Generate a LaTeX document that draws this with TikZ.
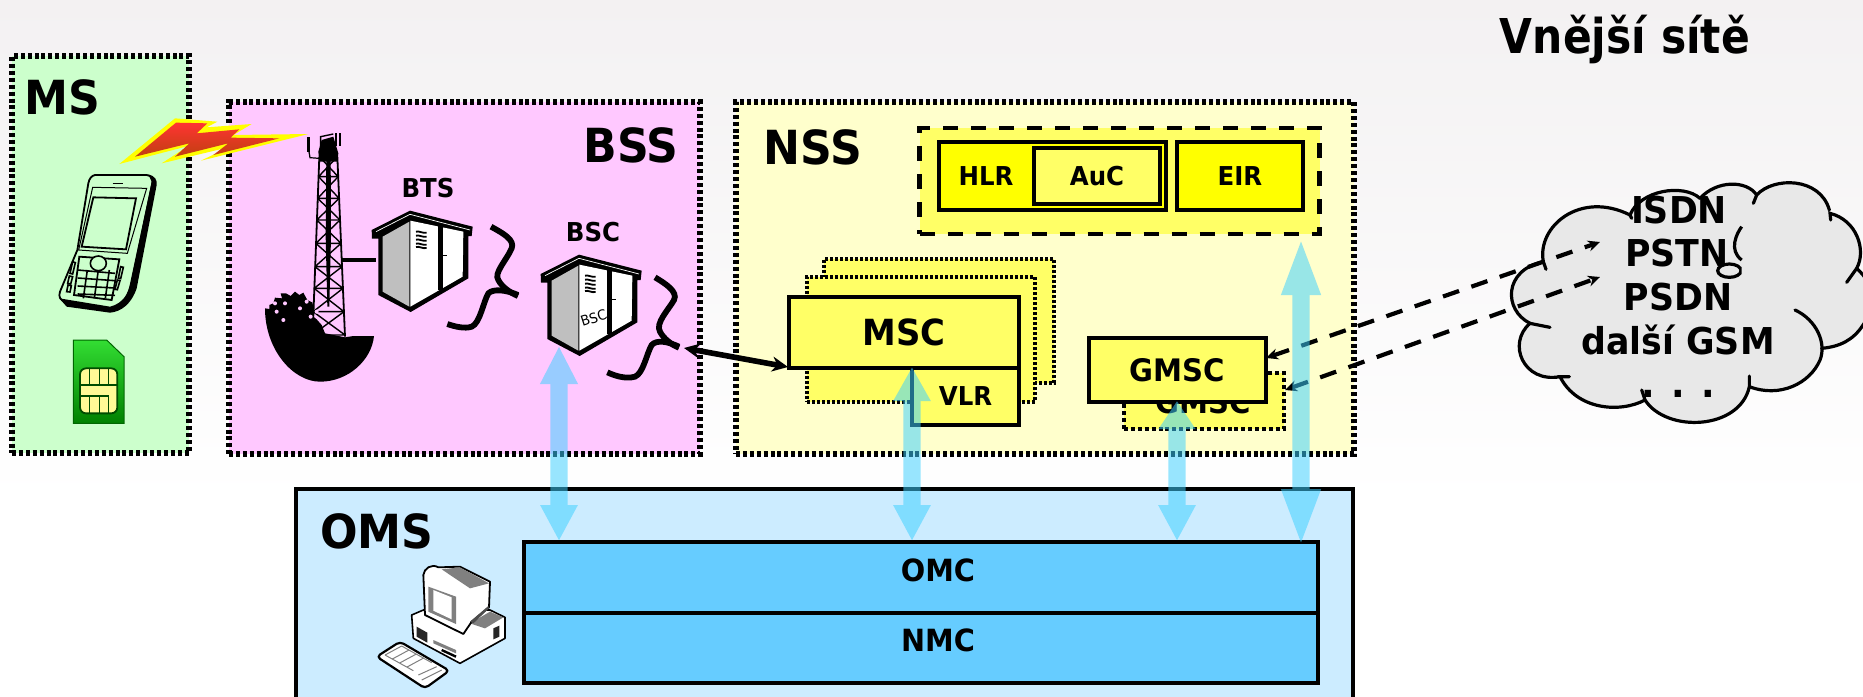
\documentclass[tikz,border=0pt]{standalone}
\usepackage{fontspec}
\usetikzlibrary{arrows.meta}
\newfontfamily\lab{DejaVu Sans}[FakeStretch=0.94]
\newfontfamily\labt{DejaVu Sans}[FakeStretch=0.885]
\newcommand{\fz}[1]{\fontsize{#1}{#1}\selectfont}
\definecolor{msfill}{HTML}{CCFFCC}
\definecolor{bssfill}{HTML}{FFC8FF}
\definecolor{nssfill}{HTML}{FFFFCC}
\definecolor{omsfill}{HTML}{CCECFF}
\definecolor{omcfill}{HTML}{66CCFF}
\definecolor{yel}{HTML}{FFFF66}
\definecolor{pureyel}{HTML}{FFFF00}
\definecolor{arrowblue}{HTML}{3ED0FF}
\definecolor{cloudfill}{HTML}{E8E8E8}
\tikzset{
  areabox/.style={draw=black,line width=2.6pt,dash pattern=on 2pt off 1.45pt,inner sep=0,outer sep=0},
  stackbox/.style={draw=black,fill=yel,line width=1.6pt,dash pattern=on 1.3pt off 1.2pt,inner sep=0,outer sep=0},
  ybox/.style={draw=black,fill=yel,line width=2pt,inner sep=0,outer sep=0,font=\lab\bfseries},
  yybox/.style={ybox,fill=pureyel},
  bluebox/.style={draw=black,fill=omcfill,line width=2pt,inner sep=0,outer sep=0},
  biglabel/.style={font=\lab\bfseries\fz{23.5},inner sep=0},
  smalllabel/.style={font=\lab\bfseries\fz{13},inner sep=0},
  cloudlabel/.style={font=\lab\bfseries\fz{18.5},inner sep=0},
  dashedlink/.style={line width=2.1pt,dash pattern=on 8.5pt off 6.5pt,{Stealth[length=6pt,width=5.5pt]}-{Stealth[length=6pt,width=5.5pt]}},
  cloudline/.style={line width=1.6pt,line cap=round},
  brace/.style={line width=2.9pt},
}
\newcommand{\bluelink}[4]{\begin{scope}[transparency group,opacity=.53]
  \draw[line width=8.7pt,draw=arrowblue,{Triangle[length=#3pt,width=17.5pt,fill=arrowblue]}-{Triangle[length=#4pt,width=17.5pt,fill=arrowblue]}] (#1) -- (#2);
\end{scope}}
\newcommand{\cabinetshape}[3]{%
\begin{scope}[shift={(#1,#2)},x=0.16667pt,y=-0.16667pt]
  \fill[black] (35,150) -- (150,92) -- (338,140) -- (335,168) -- (325,168) -- (325,295) -- (152,396) -- (55,345) -- (55,176) -- (36,176) -- cycle;
  \fill[gray!50] (68,170) -- (148,125) -- (148,380) -- (68,335) -- cycle;
  \fill[white] (151,122) -- (310,155) -- (308,290) -- (151,380) -- cycle;
  \draw[white,line width=.35pt] (48,155) -- (150,103) -- (330,150);
  \draw[black,line width=2.2pt] (241,135) -- (241,330);
  \draw[black,line width=.6pt] (241,227) -- (260,227);
  \foreach \vy in {155,167,179,191,201}{\draw[black,line width=.9pt] (168,\vy) .. controls (178,\vy-3) and (188,\vy+6) .. (200,\vy+3);}
  #3
\end{scope}}
\begin{document}
\begin{tikzpicture}[x=0.5pt,y=-0.5pt]
\useasboundingbox (0,0) rectangle (1863,696);
\clip (0,0) rectangle (1863,696);
\fill[white] (0,0) rectangle (1863,696);
\shade[top color={rgb,255:red,243;green,241;blue,242},bottom color=white] (0,0) rectangle (1863,500);

% area frames
\node (msarea) [areabox,fill=msfill,minimum width=88.5pt,minimum height=198.5pt] at (100.5,254.5) {};
\node (bssarea) [areabox,fill=bssfill,minimum width=235.5pt,minimum height=176pt] at (464.5,278) {};
\node (nssarea) [areabox,fill=nssfill,minimum width=309pt,minimum height=176pt] at (1045,278) {};
\node (omsarea) [draw=black,fill=omsfill,line width=2pt,inner sep=0,outer sep=0,minimum width=528.5pt,minimum height=150pt] at (824.5,639) {};

\node (mslabel) [biglabel] at (62,97) {MS};
\node (bsslabel) [biglabel] at (631,145) {BSS};
\node (nsslabel) [biglabel] at (813,147) {NSS};
\node (omslabel) [biglabel] at (377,531) {OMS};
\node (title) [font=\labt\bfseries\fz{24},inner sep=0,anchor=base] at (1625,54) {Vnější sítě};
\node (btslabel) [font=\lab\bfseries\fz{13},inner sep=0] at (428,188) {BTS};
\node (bsclabel) [font=\lab\bfseries\fz{13},inner sep=0] at (593,232) {BSC};

% phone
\begin{scope}[shift={(0,40)},x=0.16667pt,y=-0.16667pt]
  \fill[black] (445,403) .. controls (465,408) and (472,420) .. (470,435) -- (410,745) .. controls (395,790) and (365,815) .. (330,818) -- (200,800) -- (178,775) -- (330,800) .. controls (370,790) and (385,760) .. (392,730) -- (455,425) -- cycle;
  \draw[line width=.9pt,line join=round] (285,405) -- (440,405) .. controls (455,408) and (460,415) .. (457,430) -- (392,735) .. controls (380,785) and (360,800) .. (330,805) -- (195,785) .. controls (180,780) and (175,770) .. (180,755) -- (232,630) -- (265,430) .. controls (268,415) and (275,407) .. (285,405) -- cycle;
  \draw[line width=.5pt] (278,442) -- (440,445) -- (382,640) -- (236,630) -- cycle;
  \draw[line width=.9pt] (280,472) -- (408,475) -- (378,628) -- (245,620) -- cycle;
  \draw[line width=.8pt] (338,430) -- (370,430);
  \draw[line width=.9pt] (238,650) -- (358,658) -- (335,780) -- (222,765) -- cycle;
  \foreach \ky in {0,1,2,3}{\draw[line width=.8pt] (233,690+\ky*24) -- (345,700+\ky*22);}
  \foreach \kx in {0,1,2}{\draw[line width=.8pt] (262+\kx*33,690) -- (250+\kx*33,775);}
  \draw[line width=.8pt,fill=msfill] (295,670) ellipse (24 and 22);
  \draw[line width=.8pt] (218,665) -- (210,700) -- (218,702) -- (226,668) -- cycle;
  \draw[line width=.8pt] (208,708) -- (203,730) -- (212,732) -- (218,710) -- cycle;
  \draw[line width=.8pt] (204,735) -- (200,755) -- (210,756) -- (214,737) -- cycle;
  \draw[line width=.8pt] (362,680) -- (355,715) -- (362,716) -- (370,682) -- cycle;
  \draw[line width=.8pt] (352,720) -- (345,748) -- (352,749) -- (360,722) -- cycle;
\end{scope}

% SIM
\begin{scope}[shift={(0,40)},x=0.16667pt,y=-0.16667pt]
  \shade[draw=black!60!green,line width=.5pt,top color={rgb,255:red,51;green,221;blue,51},bottom color={rgb,255:red,0;green,128;blue,0}] (220,900) -- (320,900) -- (372,950) -- (372,1150) -- (220,1150) -- cycle;
  \draw[black!70!green,fill={rgb,255:red,255;green,250;blue,150},line width=.9pt,rounded corners=3pt] (240,985) rectangle (352,1120);
  \foreach \sx in {268,298,326}{\draw[black!70!green,line width=.8pt] (\sx,985) -- (\sx,1035); \draw[black!70!green,line width=.8pt] (\sx,1068) -- (\sx,1120);}
  \draw[black!70!green,line width=.8pt] (240,1035) -- (352,1035) (240,1068) -- (326,1068);
\end{scope}

% lightning
\begin{scope}[shift={(0,40)},x=0.16667pt,y=-0.16667pt]
  \fill[pureyel] (358,372) -- (525,235) -- (652,245) -- (620,262) -- (755,252) -- (700,285) -- (925,282) -- (603,362) -- (685,322) -- (485,370) -- (565,318) -- cycle;
  \shade[top color={rgb,255:red,255;green,51;blue,51},bottom color={rgb,255:red,192;green,64;blue,16}] (405,350) -- (528,248) -- (622,250) -- (590,280) -- (718,268) -- (692,293) -- (838,295) -- (640,345) -- (685,310) -- (525,350) -- (568,310) -- cycle;
\end{scope}

% tower
\begin{scope}[shift={(250,120)},x=0.16667pt,y=-0.16667pt]
  \foreach \ya/\yb in {110/170,170/235,235/300,300/370,370/440,440/505,505/575,575/645}{
    \pgfmathsetmacro{\xla}{208-(\ya-110)*0.04}
    \pgfmathsetmacro{\xra}{262+(\ya-110)*0.043}
    \pgfmathsetmacro{\xlb}{208-(\yb-110)*0.04}
    \pgfmathsetmacro{\xrb}{262+(\yb-110)*0.043}
    \draw[line width=.7pt] (\xla,\ya) -- (\xrb,\yb) (\xra,\ya) -- (\xlb,\yb) (\xlb,\yb) -- (\xrb,\yb);
  }
  \draw[line width=.9pt] (208,110) -- (188,640) (262,110) -- (285,650);
  \fill[black] (229,110) -- (242,110) -- (243,350) -- (238,560) -- (232,560) -- (227,350) -- cycle;
  \fill[black] (205,95) -- (215,60) -- (250,50) -- (265,100) -- (262,125) -- (208,125) -- cycle;
  \draw[line width=.7pt] (212,80) -- (212,50) -- (250,42);
  \fill[black] (172,52) rectangle (179,95);
  \draw[line width=.6pt] (177,95) -- (180,113) -- (207,115);
  \fill[black] (254,38) rectangle (260,78);
  \fill[black] (267,38) rectangle (274,78);
  % ground and bush
  \fill[black] (45,565) .. controls (45,690) and (130,785) .. (210,785) .. controls (295,785) and (365,720) .. (372,648) -- (310,648) -- (285,652) -- (225,640) -- (215,615) -- (200,598) -- (190,590) -- (188,548) -- (172,540) -- (160,518) -- (148,525) -- (135,515) -- (122,528) -- (108,520) -- (92,520) -- (96,535) -- (75,533) -- (70,550) -- (58,555) -- (58,567) -- cycle;
  \foreach \bx/\by in {80/575,100/600,105/550,150/565,170/545,75/550,200/575,182/590}{\fill[bssfill] (\bx,\by) circle (1pt);}
\end{scope}
\coordinate (towerright) at (342,260);
\coordinate (btsleft) at (376,260);
\draw[line width=2pt] (towerright) -- (btsleft);

% cabinets
\cabinetshape{360}{180}{}
\cabinetshape{529}{224}{\node[font=\lab\fz{7},rotate=18,inner sep=0] (bscsign) at (194,282) {BSC};}

% braces
\begin{scope}[shift={(360,180)},x=0.16667pt,y=-0.16667pt]
  \draw[brace] (393,140) .. controls (430,160) and (465,180) .. (455,205) .. controls (440,240) and (400,280) .. (415,300) .. controls (425,320) and (450,338) .. (474,348);
  \draw[brace] (474,345) .. controls (440,330) and (400,325) .. (385,340) .. controls (370,365) and (360,430) .. (335,440) .. controls (315,447) and (285,440) .. (262,432);
  \draw[brace] (885,292) .. controls (915,310) and (955,335) .. (942,360) .. controls (925,390) and (885,430) .. (900,455) .. controls (910,475) and (935,495) .. (957,503);
  \draw[brace] (957,500) .. controls (925,485) and (890,478) .. (875,495) .. controls (860,520) and (850,580) .. (825,590) .. controls (800,597) and (770,590) .. (742,577);
\end{scope}

% NSS content
\node (hlrgroup) [draw=black,fill=yel,line width=2.4pt,dash pattern=on 7.5pt off 6.5pt,inner sep=0,outer sep=0,minimum width=200pt,minimum height=53pt] at (1119.5,181) {};
\node (hlr) [yybox,minimum width=113.5pt,minimum height=34pt] at (1052.5,176) {};
\node (hlrlabel) [smalllabel] at (986,176) {HLR};
\node (auc) [ybox,font=\lab\bfseries\fz{13},minimum width=63pt,minimum height=28pt] at (1097,176) {AuC};
\node (eir) [yybox,font=\lab\bfseries\fz{13},minimum width=63pt,minimum height=34pt] at (1240,176) {EIR};
\node (mscback) [stackbox,minimum width=115pt,minimum height=62pt] at (939,321) {};
\node (mscmid) [stackbox,minimum width=114pt,minimum height=62.5pt] at (921,339.5) {};
\node (vlr) [ybox,font=\lab\bfseries\fz{13},minimum width=53.5pt,minimum height=28.5pt] at (965.5,396.5) {VLR};
\node (msc) [ybox,font=\lab\bfseries\fz{18},minimum width=115pt,minimum height=35.5pt] at (904,332.5) {MSC};
\node (gmscback) [draw=black,fill=yel,line width=2.4pt,dash pattern=on 2pt off 1.45pt,inner sep=0,outer sep=0,minimum width=80pt,minimum height=28pt] at (1204,401) {};
\node (gmscbacklabel) [font=\lab\bfseries\fz{15.5},inner sep=0] at (1203,402) {GMSC};
\node (gmsc) [ybox,font=\lab\bfseries\fz{15.5},minimum width=88.5pt,minimum height=32pt] at (1177.5,370) {GMSC};

% OMS content
\node (omc) [bluebox,minimum width=397pt,minimum height=35.5pt] at (921,577.5) {};
\node (nmc) [bluebox,minimum width=397pt,minimum height=35pt] at (921,648) {};
\node (omclabel) [font=\lab\bfseries\fz{15.3},inner sep=0] at (938,570) {OMC};
\node (nmclabel) [font=\lab\bfseries\fz{15.3},inner sep=0] at (938,640) {NMC};

% computer
\begin{scope}[shift={(290,480)},x=0.16667pt,y=-0.16667pt]
  \draw[fill=white,line width=.8pt,line join=round] (365,405) -- (400,390) -- (600,390) -- (645,412) -- (645,475) -- (510,550) -- (370,475) -- cycle;
  \fill[gray] (540,430) -- (600,395) -- (640,412) -- (585,445) -- cycle;
  \fill[black!85] (380,440) -- (412,458) -- (412,488) -- (380,470) -- cycle;
  \fill[black!85] (610,445) -- (628,437) -- (628,470) -- (610,478) -- cycle;
  \fill[gray] (430,480) -- (498,510) -- (498,520) -- (430,490) -- cycle;
  \draw[line width=1.2pt] (455,510) -- (498,530);
  \draw[fill=white,line width=.9pt,line join=round] (400,285) .. controls (402,265) and (425,250) .. (445,262) -- (510,260) -- (600,305) -- (597,382) -- (545,425) -- (520,462) -- (405,405) -- cycle;
  \fill[gray] (455,268) -- (510,262) -- (597,310) -- (540,325) -- cycle;
  \fill[gray] (415,320) -- (498,350) -- (498,432) -- (415,395) -- cycle;
  \fill[white] (430,330) -- (485,352) -- (485,418) -- (430,392) -- cycle;
  \fill[black!70] (540,425) -- (595,378) -- (597,385) -- (550,430) -- cycle;
  \draw[fill=white,line width=1.1pt,line join=round,rounded corners=2pt] (260,530) -- (330,485) -- (478,572) -- (405,625) -- cycle;
  \foreach \kk in {0,1,2,3}{\draw[gray,line width=.5pt] (285+\kk*22,525+\kk*12) -- (335+\kk*22,498+\kk*12);}
  \draw[gray,line width=.5pt] (285,525) -- (370,572) (335,498) -- (425,548);
  \draw[gray,line width=.5pt] (385,585) -- (440,560) (395,600) -- (455,570);
\end{scope}

% cloud
\begin{scope}[shift={(1480,160)},x=0.16667pt,y=-0.16667pt]
  \fill[cloudfill] (190,305) .. controls (170,200) and (300,90) .. (450,165) .. controls (480,90) and (610,70) .. (660,115) .. controls (710,60) and (800,60) .. (830,105) .. controls (880,50) and (1020,50) .. (1050,160) .. controls (1130,180) and (1160,270) .. (1130,325) .. controls (1190,380) and (1190,440) .. (1149,495) .. controls (1120,540) and (1080,560) .. (1025,565) .. controls (1010,650) and (920,720) .. (808,680) .. controls (780,810) and (560,820) .. (495,720) .. controls (420,760) and (290,750) .. (240,650) .. controls (130,670) and (80,550) .. (150,490) .. controls (70,450) and (70,330) .. (190,305) -- cycle;
  \draw[cloudline] (198,328) -- (190,305) .. controls (170,200) and (300,90) .. (450,165);
  \draw[cloudline] (455,175) -- (450,165) .. controls (480,90) and (610,70) .. (660,115);
  \draw[cloudline] (660,115) .. controls (710,60) and (800,60) .. (830,105);
  \draw[cloudline] (820,130) -- (830,105) .. controls (880,50) and (1020,50) .. (1048,150);
  \draw[cloudline] (1052,180) -- (1050,160) .. controls (1130,180) and (1160,270) .. (1130,325) -- (1100,367);
  \draw[cloudline] (1130,325) .. controls (1190,380) and (1190,440) .. (1149,495) .. controls (1120,540) and (1080,560) .. (1025,565);
  \draw[cloudline] (945,450) .. controls (1010,480) and (1040,550) .. (1020,600) .. controls (990,670) and (900,715) .. (808,680);
  \draw[cloudline] (808,648) -- (808,680) .. controls (780,810) and (560,820) .. (495,720) -- (485,690);
  \draw[cloudline] (495,720) .. controls (420,760) and (290,750) .. (240,650) -- (268,650);
  \draw[cloudline] (240,650) .. controls (130,670) and (80,550) .. (150,490) -- (210,502);
  \draw[cloudline] (150,490) .. controls (70,450) and (70,330) .. (190,305);
  \draw[cloudline,line cap=butt] (785,200) .. controls (770,220) and (745,270) .. (785,300);
  \begin{scope}
    \clip (690,280) rectangle (785,370);
    \draw[line width=1.6pt] (748,332) ellipse (35 and 20);
  \end{scope}
\end{scope}
\node (isdn) [cloudlabel] at (1679,210) {ISDN};
\node (pstn) [cloudlabel] at (1677,253) {PSTN};
\node (psdn) [cloudlabel] at (1678,297) {PSDN};
\node (gsm) [cloudlabel] at (1678,340) {další GSM};
\node (dots) [font=\lab\bfseries\fz{19},inner sep=0,anchor=base] at (1678,397) {. . .};

% links
\coordinate (gmsctip) at (1266,358);
\coordinate (cloudtipa) at (1600,242);
\coordinate (gmscbacktip) at (1285,390);
\coordinate (cloudtipb) at (1600,277);
\draw[dashedlink] (gmsctip) -- (cloudtipa);
\draw[dashedlink] (gmscbacktip) -- (cloudtipb);
\coordinate (bscport) at (684,348);
\coordinate (mscport) at (788,367);
\draw[line width=2.8pt,{Stealth[length=8pt,width=7.5pt]}-{Stealth[length=8pt,width=7.5pt]}] (bscport) -- (mscport);

\coordinate (a1t) at (559,346); \coordinate (a1b) at (559,541);
\coordinate (a2t) at (912,367); \coordinate (a2b) at (912,541);
\coordinate (a3t) at (1177,401); \coordinate (a3b) at (1177,541);
\coordinate (a4t) at (1301,237); \coordinate (a4b) at (1301,547);
\bluelink{a1t}{a1b}{19}{18}
\bluelink{a2t}{a2b}{17}{18}
\bluelink{a3t}{a3b}{14}{18}
\bluelink{a4t}{a4b}{29}{29}
\end{tikzpicture}
\end{document}
